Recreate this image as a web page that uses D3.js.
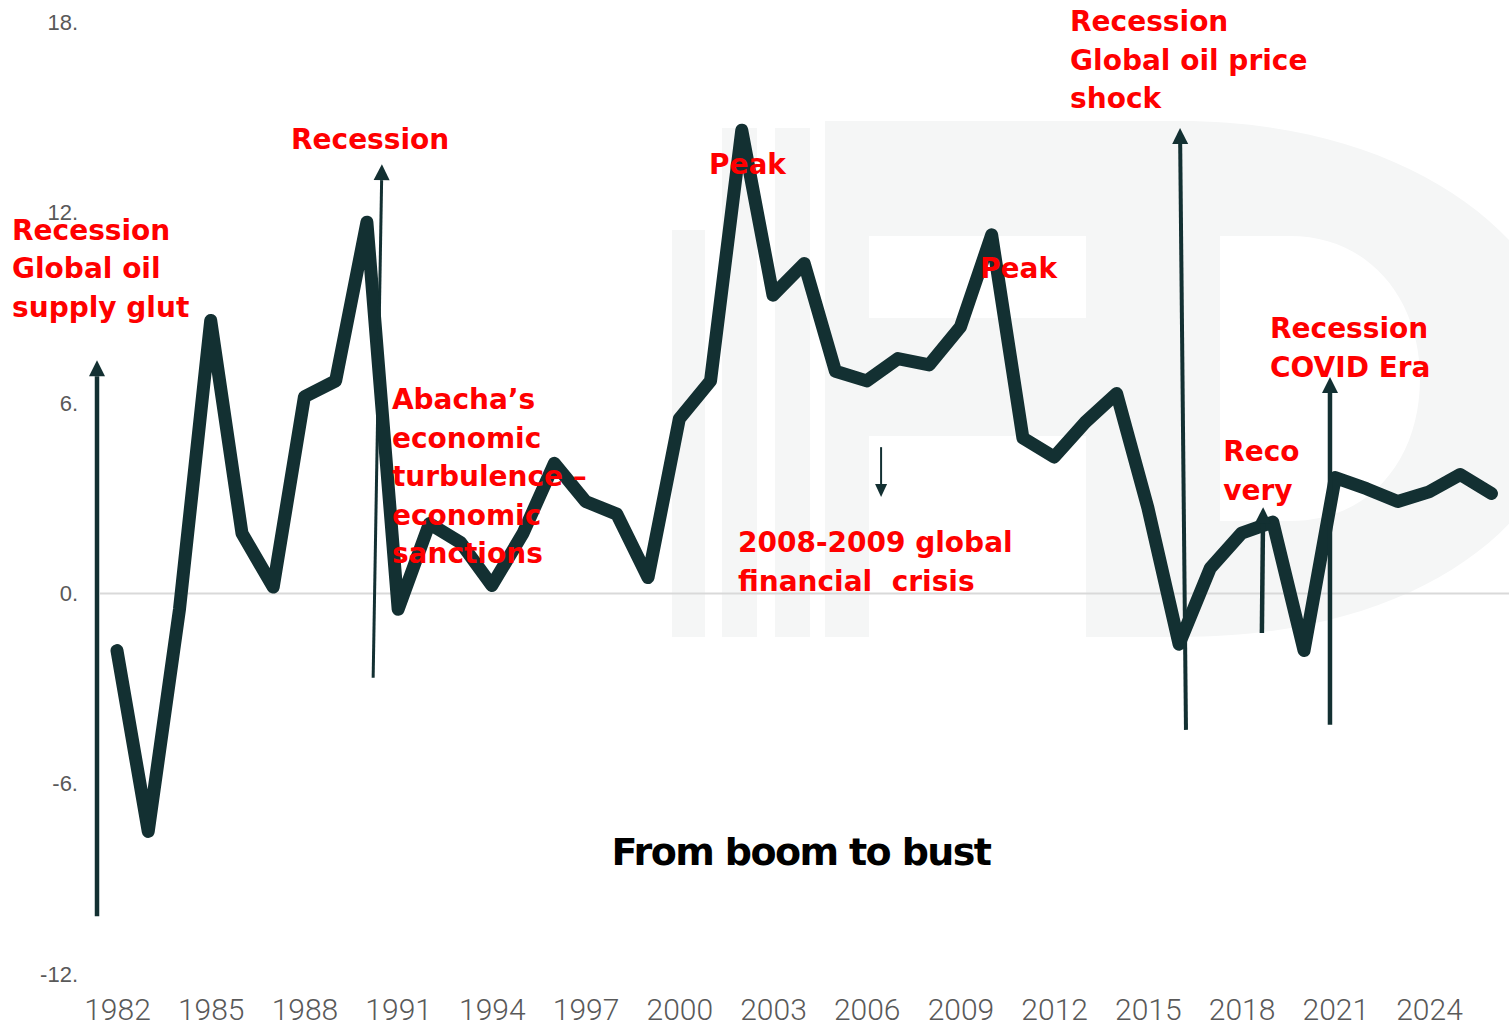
<!DOCTYPE html>
<html>
<head>
<meta charset="utf-8">
<script src="https://cdn.jsdelivr.net/npm/d3@7"></script>
<style>
  html, body { margin: 0; padding: 0; background: #ffffff; }
  svg { display: block; }
  .note { font-family: "DejaVu Sans", sans-serif; font-weight: bold; fill: #ff0000; }
</style>
</head>
<body>
<svg id="chart" width="1509" height="1030"></svg>
<script>
// Annual real GDP growth (%), 1982–2026
const years = d3.range(1982, 2027);
const growth = [
  -1.8, -7.5, -0.5, 8.6, 1.9, 0.2, 6.2, 6.7, 11.7, -0.5,
   2.2,  1.6, 0.25, 1.9, 4.1, 2.9, 2.5, 0.5, 5.5, 6.7,
  14.6,  9.4, 10.4, 7.0, 6.7, 7.4, 7.2, 8.4, 11.3, 4.9,
   4.3,  5.4,  6.3, 2.7, -1.6, 0.8, 1.9, 2.25, -1.8, 3.65,
   3.3,  2.9,  3.2, 3.75, 3.15
];
const yTicks = [18, 12, 6, 0, -6, -12];
const xTicks = d3.range(1982, 2025, 3);

// Event annotations, anchored in data units (year, growth)
const noteLines = [
  ["Recession", "Global oil", "supply glut"],
  ["Recession"],
  ["Abacha\u2019s", "economic", "turbulence \u2013", "economic", "sanctions"],
  ["Peak"],
  ["Peak"],
  ["Recession", "Global oil price", "shock"],
  ["2008-2009 global", "financial  crisis"],
  ["Recession", "COVID Era"],
  ["Reco", "very"]
];
const noteYear  = [1978.64, 1987.57, 1990.80, 2000.95, 2009.63, 2012.51, 2001.88, 2018.91, 2017.41];
const noteValue = [11.14, 14.00, 5.81, 13.22, 9.94, 17.72, 1.30, 8.05, 4.17];

// Arrows: start (tail) and end (head) in data units
const arrowFromYear  = [1981.36, 1990.20, 2016.22, 2018.65, 2020.83, 2006.46];
const arrowFromValue = [-10.17, -2.66, -4.30, -1.25, -4.14, 4.61];
const arrowToYear    = [1981.36, 1990.48, 2016.03, 2018.69, 2020.83, 2006.46];
const arrowToValue   = [7.35, 13.53, 14.67, 2.72, 6.82, 3.04];
const arrowWeight    = [4.5, 3, 4, 4.5, 4.5, 2];

const svg = d3.select("#chart");
const W = 1509, H = 1030;

const x = d3.scaleLinear().domain([1982, 2024]).range([117, 1429]);
const y = d3.scaleLinear().domain([-12, 18]).range([974.2, 22.3]);

// Faint logo watermark behind the plot
const wm = svg.append("g").attr("fill", "#f5f6f6");
wm.append("rect").attr("x", 672).attr("y", 230).attr("width", 33).attr("height", 407);
wm.append("rect").attr("x", 722).attr("y", 128).attr("width", 35).attr("height", 509);
wm.append("rect").attr("x", 775).attr("y", 128).attr("width", 35).attr("height", 509);
wm.append("path")
  .attr("fill-rule", "evenodd")
  .attr("d",
    "M825,637 V121 H1180 C1420,121 1570,250 1570,380 C1570,520 1420,637 1180,637 Z " +
    "M869,236 H1086 V318 H869 Z " +
    "M869,436 H1086 V637 H869 Z " +
    "M1220,236 H1290 C1370,236 1420,300 1420,378 C1420,460 1370,521 1290,521 H1220 Z");

// Zero reference line
svg.append("line")
  .attr("x1", 100).attr("x2", W)
  .attr("y1", y(0)).attr("y2", y(0))
  .attr("stroke", "#d9d9d9").attr("stroke-width", 2);

// Y axis labels
const yAxis = svg.append("g")
  .attr("transform", "translate(78,0)")
  .call(d3.axisLeft(y).tickValues(yTicks).tickSize(0).tickPadding(0).tickFormat(d => d + "."));
yAxis.select(".domain").remove();
yAxis.selectAll("text")
  .attr("font-family", "'Liberation Sans', Arial, sans-serif")
  .attr("font-size", 22)
  .attr("fill", "#595959");

// X axis labels
const xAxis = svg.append("g")
  .attr("transform", "translate(0,999)")
  .call(d3.axisBottom(x).tickValues(xTicks).tickSize(0).tickPadding(0).tickFormat(d3.format("d")));
xAxis.select(".domain").remove();
xAxis.selectAll("text")
  .attr("font-family", "Roboto, sans-serif")
  .attr("font-weight", 300)
  .attr("font-size", 30)
  .attr("fill", "#595959");

// Growth line
const line = d3.line().x((d, i) => x(years[i])).y(d => y(d));
svg.append("path")
  .datum(growth)
  .attr("d", line)
  .attr("fill", "none")
  .attr("stroke", "#133032")
  .attr("stroke-width", 13)
  .attr("stroke-linejoin", "round")
  .attr("stroke-linecap", "round");

// Arrows
const arrows = svg.append("g").attr("fill", "#133032").attr("stroke", "#133032");
arrowFromYear.forEach((fy, i) => {
  const x1 = x(fy), y1 = y(arrowFromValue[i]);
  const x2 = x(arrowToYear[i]), y2 = y(arrowToValue[i]);
  const w = arrowWeight[i];
  const headLen = w < 3 ? 13 : 16;
  const headHalf = w < 3 ? 6 : 8;
  const len = Math.hypot(x2 - x1, y2 - y1);
  const ux = (x2 - x1) / len, uy = (y2 - y1) / len;
  const bx = x2 - ux * headLen, by = y2 - uy * headLen;
  arrows.append("line")
    .attr("x1", x1).attr("y1", y1).attr("x2", bx).attr("y2", by)
    .attr("stroke-width", w);
  arrows.append("path")
    .attr("stroke", "none")
    .attr("d", `M${x2},${y2} L${bx - uy * headHalf},${by + ux * headHalf} L${bx + uy * headHalf},${by - ux * headHalf} Z`);
});

// Annotation text
const notes = svg.append("g");
noteLines.forEach((lines, i) => {
  const t = notes.append("text")
    .attr("class", "note")
    .attr("font-size", 28)
    .attr("x", x(noteYear[i]))
    .attr("y", y(noteValue[i]));
  lines.forEach((s, j) => {
    t.append("tspan")
      .attr("x", x(noteYear[i]))
      .attr("dy", j === 0 ? 0 : 38.5)
      .style("white-space", "pre")
      .text(s);
  });
});

// Title
svg.append("text")
  .attr("x", 801).attr("y", 865)
  .attr("text-anchor", "middle")
  .attr("font-family", "'DejaVu Sans', sans-serif")
  .attr("font-weight", "bold")
  .attr("font-size", 38)
  .attr("letter-spacing", -1.6)
  .attr("fill", "#000000")
  .text("From boom to bust");
</script>
</body>
</html>
